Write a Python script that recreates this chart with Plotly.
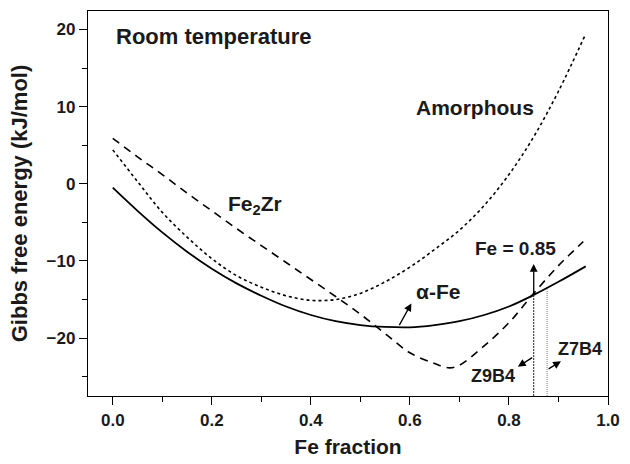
import plotly.graph_objects as go

# ---- data ----
fe_x_alpha = [0.0, 0.05, 0.10, 0.15, 0.20, 0.25, 0.30, 0.35, 0.40, 0.45, 0.50,
              0.55, 0.60, 0.65, 0.70, 0.75, 0.80, 0.85, 0.90, 0.955]
g_alpha = [-0.5, -3.5, -6.3, -8.8, -11.0, -12.9, -14.5, -15.9, -17.0, -17.8, -18.3,
           -18.55, -18.6, -18.3, -17.8, -17.0, -15.9, -14.4, -12.7, -10.7]

fe_x_amor = [0.0, 0.05, 0.10, 0.15, 0.20, 0.25, 0.30, 0.35, 0.40, 0.45, 0.50,
             0.55, 0.60, 0.65, 0.70, 0.75, 0.80, 0.85, 0.90, 0.954]
g_amor = [4.4, 0.3, -3.7, -6.9, -9.7, -11.9, -13.4, -14.5, -15.1, -15.0, -14.2,
          -12.7, -10.8, -8.5, -6.0, -2.8, 1.2, 6.1, 12.0, 19.3]

fe_x_fe2zr = [0.0, 0.05, 0.10, 0.15, 0.20, 0.25, 0.30, 0.35, 0.40, 0.45, 0.50,
              0.55, 0.60, 0.65, 0.68, 0.70, 0.75, 0.80, 0.85, 0.90, 0.95]
g_fe2zr = [5.9, 3.5, 1.2, -1.2, -3.5, -5.8, -8.0, -10.2, -12.4, -14.6, -16.9,
           -19.4, -21.9, -23.3, -23.85, -23.5, -21.0, -18.0, -14.2, -10.6, -7.5]

# composition markers (Fe fraction) and where they meet the alpha-Fe curve
z9b4_x, z9b4_top = 0.85, -14.4
z7b4_x, z7b4_top = 0.877, -13.7
y_bottom = -27.5

FONT = "Liberation Sans, Arial, sans-serif"

fig = go.Figure()
fig.add_trace(go.Scatter(x=fe_x_alpha, y=g_alpha, mode="lines", line_shape="spline",
                         line=dict(color="black", width=1.8), showlegend=False))
fig.add_trace(go.Scatter(x=fe_x_amor, y=g_amor, mode="lines", line_shape="spline",
                         line=dict(color="black", width=1.6, dash="3px,3px"), showlegend=False))
fig.add_trace(go.Scatter(x=fe_x_fe2zr, y=g_fe2zr, mode="lines", line_shape="spline",
                         line=dict(color="black", width=1.6, dash="8px,6px"), showlegend=False))

# vertical composition lines
fig.add_trace(go.Scatter(x=[z9b4_x, z9b4_x], y=[y_bottom, z9b4_top], mode="lines",
                         line=dict(color="#222", width=1, dash="2px,1px"), showlegend=False))
fig.add_trace(go.Scatter(x=[z7b4_x, z7b4_x], y=[y_bottom, z7b4_top], mode="lines",
                         line=dict(color="#777", width=1, dash="1px,1px"), showlegend=False))

def label(x, y, text, size, xanchor="center"):
    fig.add_annotation(x=x, y=y, xref="x", yref="y", text="<b>%s</b>" % text,
                       showarrow=False, xanchor=xanchor, yanchor="middle",
                       font=dict(family=FONT, size=size, color="#1a1a1a"))

def arrow(x0, y0, x1, y1):
    fig.add_annotation(x=x1, y=y1, ax=x0, ay=y0, xref="x", yref="y", axref="x", ayref="y",
                       text="", showarrow=True, arrowhead=2, arrowsize=1.2,
                       arrowwidth=1.3, arrowcolor="black", standoff=0, startstandoff=0)

label(0.003, 19.1, "Room temperature", 22, xanchor="left")
label(0.855, 9.9, "Amorphous", 21, xanchor="right")
label(0.287, -2.7, "Fe<sub>2</sub>Zr", 21)
label(0.657, -13.9, "α-Fe", 21)
label(0.814, -8.4, "Fe = 0.85", 19)
label(0.767, -24.9, "Z9B4", 18)
label(0.944, -21.4, "Z7B4", 18)

arrow(0.577, -18.5, 0.603, -15.5)
arrow(z9b4_x, z9b4_top, z9b4_x, -10.4)
arrow(0.85, -22.4, 0.818, -23.7)
arrow(0.877, -24.1, 0.905, -23.0)

axis_common = dict(showline=True, linecolor="black", linewidth=1.3, mirror=True,
                   ticks="outside", ticklen=8, tickwidth=1.3, tickcolor="black",
                   showgrid=False, zeroline=False,
                   tickfont=dict(family=FONT, size=17, color="#1a1a1a", weight="bold"))

fig.update_xaxes(range=[-0.05, 1.0], tickvals=[0, 0.2, 0.4, 0.6, 0.8, 1.0],
                 ticktext=["0.0", "0.2", "0.4", "0.6", "0.8", "1.0"],
                 minor=dict(tickvals=[0.1, 0.3, 0.5, 0.7, 0.9], ticks="outside",
                            ticklen=5, tickwidth=1.3, tickcolor="black"),
                 title=dict(text="<b>Fe fraction</b>", standoff=10,
                            font=dict(family=FONT, size=21, color="#1a1a1a")),
                 **axis_common)
fig.update_yaxes(range=[-27.5, 22.4], tickvals=[-20, -10, 0, 10, 20],
                 minor=dict(tickvals=[-25, -15, -5, 5, 15], ticks="outside",
                            ticklen=5, tickwidth=1.3, tickcolor="black"),
                 title=dict(text="<b>Gibbs free energy (kJ/mol)</b>", standoff=12,
                            font=dict(family=FONT, size=22, color="#1a1a1a")),
                 **axis_common)

fig.update_layout(width=630, height=464, margin=dict(l=88, r=14, t=10, b=65),
                  plot_bgcolor="white", paper_bgcolor="white",
                  font=dict(family=FONT))

fig.write_html("out.html")
